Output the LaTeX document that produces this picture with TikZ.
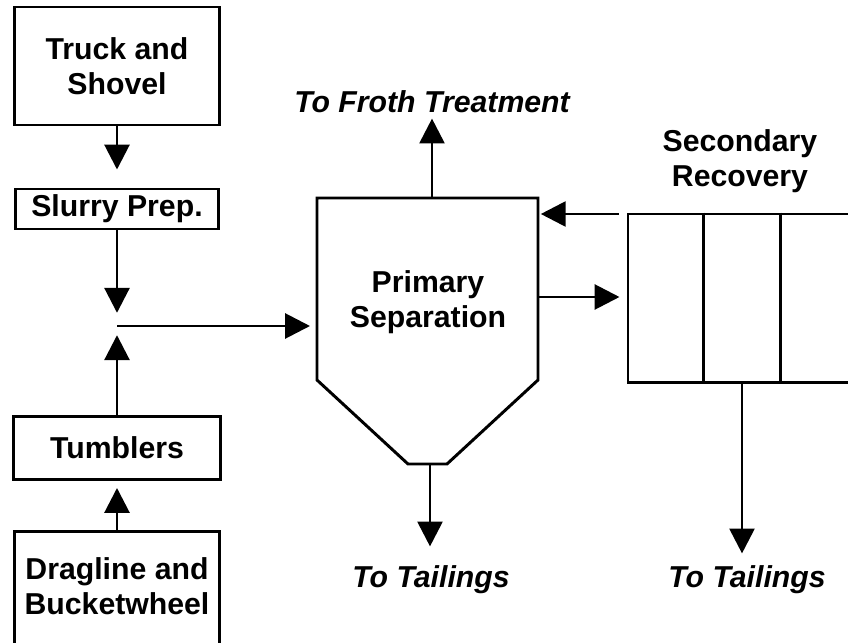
\documentclass[tikz,border=0pt]{standalone}
\usepackage{fontspec}
\setmainfont{Liberation Sans}
\usetikzlibrary{arrows.meta,calc}

\begin{document}
\begin{tikzpicture}[x=0.025cm, y=-0.025cm, line width=2.1pt,
	every node/.style={font=\fontsize{21.5}{25}\selectfont\bfseries, align=center},
	box/.style={draw, inner sep=0pt},
	lbl/.style={font=\fontsize{21.5}{25}\selectfont\bfseries\itshape, inner sep=0pt},
	arr/.style={-{Triangle[length=0.62cm,width=0.62cm]}}]
	\clip (0,0) rectangle (848,643);
	% mining and feed preparation
	\node[box, minimum width=5.125cm, minimum height=2.95cm] (truck) at (117,66) {Truck and\\Shovel};
	\node[box, minimum width=5.05cm, minimum height=1cm] (slurry) at (117,209) {Slurry Prep.};
	\node[box, minimum width=5.175cm, minimum height=1.575cm] (tumblers) at (117,448) {Tumblers};
	\node[box, minimum width=5.125cm, minimum height=3.5cm, anchor=north] (dragline) at (117,530) {};
	\node (draglinetext) at (117,586) {Dragline and\\Bucketwheel};
	\coordinate (join) at (117,326);
	\draw[arr, shorten >=0.45cm] (truck) -- (slurry);
	\draw[arr, shorten >=0.33cm] (slurry) -- (join);
	\draw[arr, shorten >=0.175cm] (dragline) -- (tumblers);
	\draw[arr, shorten >=0.23cm] (tumblers) -- (join);
	% primary separation vessel
	\draw (317,198) -- (538,198) -- (538,380) -- (447,464) -- (408,464) -- (317,380) -- cycle;
	\node (sep) at (428,302) {Primary\\Separation};
	\coordinate (septop) at (432,198);
	\coordinate (sepbot) at (430,464);
	\coordinate (sepin) at (317,326);
	\coordinate (sepout) at (538,297);
	\coordinate (seprecycle) at (538,214);
	\draw[arr, shorten >=0.175cm] (join) -- (sepin);
	% secondary recovery cells
	\node[box, minimum width=5.7cm, minimum height=4.2cm] (sec) at (742,298) {};
	\foreach \i in {1,2}
	\draw ($(sec.north west)!\i/3!(sec.north east)$) -- ($(sec.south west)!\i/3!(sec.south east)$);
	\node (sectitle) at (740,161) {Secondary\\Recovery};
	\draw[arr, shorten >=0.175cm] (sepout) -- (sepout -| sec.west);
	\draw[arr, shorten <=0.2cm, shorten >=0.07cm] (seprecycle -| sec.west) -- (seprecycle);
	% outlet streams
	\node[lbl] (froth) at (432,102) {To Froth Treatment};
	\node[lbl] (tailsep) at (431,580) {To Tailings};
	\node[lbl] (tailsec) at (747,580) {To Tailings};
	\draw[arr, shorten >=0.1cm] (septop) -- (septop |- froth.south);
	\draw[arr, shorten >=0.45cm] (sepbot) -- (sepbot |- tailsep.north);
	\draw[arr, shorten >=0.275cm] (sec.south) -- (sec.south |- tailsec.north);
\end{tikzpicture}
\end{document}
